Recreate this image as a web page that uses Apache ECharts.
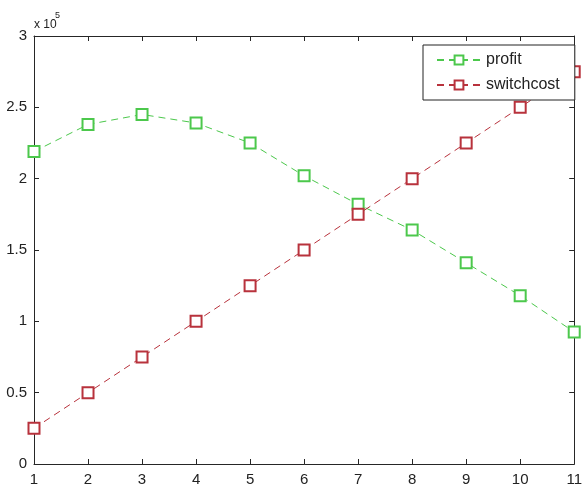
<!DOCTYPE html>
<html>
<head>
<meta charset="utf-8">
<script src="https://cdn.jsdelivr.net/npm/echarts@6/dist/echarts.min.js"></script>
<style>
html,body{margin:0;padding:0;background:#fff;}
#chart{width:585px;height:487px;}
</style>
</head>
<body>
<div id="chart"></div>
<script>
var xValues = [1, 2, 3, 4, 5, 6, 7, 8, 9, 10, 11];
var profit = [219000, 238000, 245000, 239000, 225000, 202000, 182000, 164000, 141000, 118000, 92500];
var switchcost = [25000, 50000, 75000, 100000, 125000, 150000, 175000, 200000, 225000, 250000, 275000];
var yTickLabels = ['0', '0.5', '1', '1.5', '2', '2.5', '3'];
var seriesNames = ['profit', 'switchcost'];

var font = 'Liberation Sans, Arial, sans-serif';
var axisColor = '#262626';
var greenC = '#4cc84c';
var redC = '#b8323c';

function pairs(vals) {
  return xValues.map(function (x, i) { return [x, vals[i]]; });
}

var chart = echarts.init(document.getElementById('chart'));
var commonTick = { show: true, inside: true, length: 5, lineStyle: { color: axisColor, width: 1 } };
chart.setOption({
  animation: false,
  backgroundColor: '#fff',
  grid: { left: 34, right: 5, top: 36, bottom: 22, containLabel: false },
  xAxis: [{
    type: 'value', position: 'bottom', min: 1, max: 11, interval: 1,
    axisLine: { show: true, onZero: false, lineStyle: { color: axisColor, width: 1 } },
    axisTick: commonTick,
    splitLine: { show: false },
    axisLabel: { color: '#222', fontSize: 15, fontFamily: font, margin: 8 }
  }, {
    type: 'value', position: 'top', min: 1, max: 11, interval: 1,
    axisLine: { show: true, onZero: false, lineStyle: { color: axisColor, width: 1 } },
    axisTick: commonTick, splitLine: { show: false }, axisLabel: { show: false }
  }],
  yAxis: [{
    type: 'value', position: 'left', min: 0, max: 300000, interval: 50000,
    axisLine: { show: true, onZero: false, lineStyle: { color: axisColor, width: 1 } },
    axisTick: commonTick,
    splitLine: { show: false },
    axisLabel: {
      color: '#222', fontSize: 15, fontFamily: font, margin: 7,
      formatter: function (v) { return yTickLabels[Math.round(v / 50000)]; }
    }
  }, {
    type: 'value', position: 'right', min: 0, max: 300000, interval: 50000,
    axisLine: { show: true, onZero: false, lineStyle: { color: axisColor, width: 1 } },
    axisTick: commonTick, splitLine: { show: false }, axisLabel: { show: false }
  }],
  legend: {
    show: true,
    orient: 'vertical',
    left: 423, top: 45,
    padding: [7, 15, 7, 13],
    itemGap: 9,
    itemWidth: 44, itemHeight: 11,
    backgroundColor: '#fff',
    borderColor: '#222', borderWidth: 1,
    textStyle: { color: '#222', fontSize: 16, fontFamily: font, padding: [0, 0, 0, 0] },
    data: seriesNames
  },
  graphic: [
    { type: 'text', left: 34, top: 19, style: { text: 'x 10', fontSize: 12, fontFamily: font, fill: '#222' } },
    { type: 'text', left: 55, top: 11, style: { text: '5', fontSize: 9, fontFamily: font, fill: '#222' } }
  ],
  series: [{
    name: seriesNames[0], type: 'line', data: pairs(profit), clip: false,
    symbol: 'emptyRect', symbolSize: 11,
    lineStyle: { color: greenC, width: 1, type: [7, 5] },
    itemStyle: { color: greenC, borderColor: greenC, borderWidth: 1 }
  }, {
    name: seriesNames[1], type: 'line', data: pairs(switchcost), clip: false,
    symbol: 'emptyRect', symbolSize: 11,
    lineStyle: { color: redC, width: 1, type: [7, 5] },
    itemStyle: { color: redC, borderColor: redC, borderWidth: 1 }
  }]
});
</script>
</body>
</html>
